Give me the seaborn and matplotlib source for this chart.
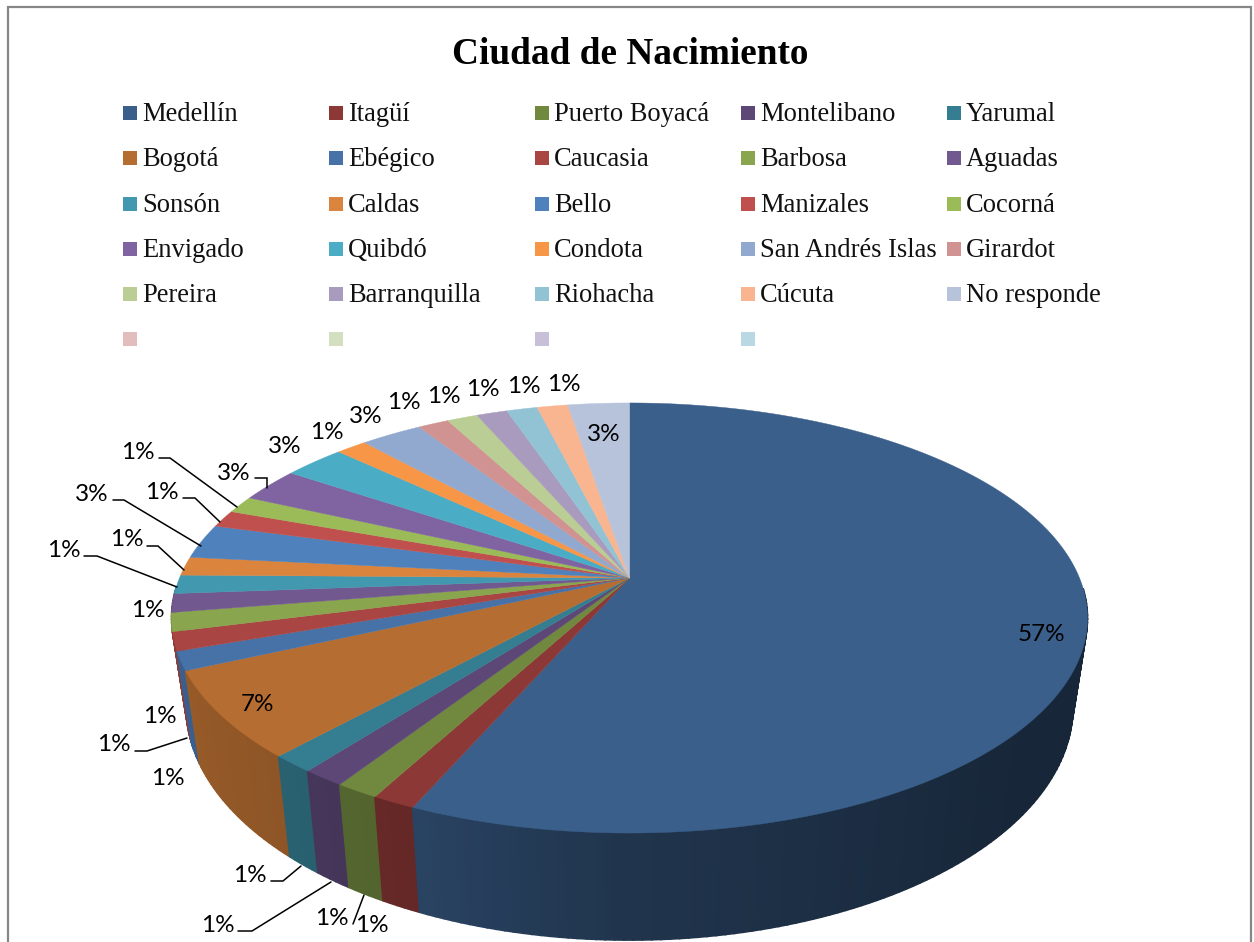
"""Ciudad de Nacimiento: 3D-looking pie with legend grid, drawn in pixel coordinates."""

import matplotlib
matplotlib.use("Agg")
import matplotlib.pyplot as plt
import numpy as np
import seaborn as sns

# ── Data ─────────────────────────────────────────────────────────────────────
CITIES = [
    "Medellín", "Itagüí", "Puerto Boyacá", "Montelibano", "Yarumal",
    "Bogotá", "Ebégico", "Caucasia", "Barbosa", "Aguadas",
    "Sonsón", "Caldas", "Bello", "Manizales", "Cocorná",
    "Envigado", "Quibdó", "Condota", "San Andrés Islas", "Girardot",
    "Pereira", "Barranquilla", "Riohacha", "Cúcuta", "No responde",
]
PERCENT = [
    56.6, 1.3, 1.3, 1.3, 1.3,
    6.5, 1.4, 1.4, 1.4, 1.4,
    1.4, 1.4, 2.6, 1.3, 1.3,
    2.6, 2.6, 1.3, 2.6, 1.3,
    1.3, 1.3, 1.3, 1.3, 2.6,
]
COLORS = [
    "#3A5F8B", "#8C3836", "#71893F", "#5C4776", "#357D91",
    "#B66D31", "#4672A8", "#A94542", "#89A54E", "#71588F",
    "#4298AF", "#DB843D", "#4F81BD", "#C0504D", "#9BBB59",
    "#8064A2", "#4BACC6", "#F79646", "#92A9CF", "#D09392",
    "#BACD94", "#A99BBD", "#91C3D5", "#F9B590", "#B7C3DB",
]
EMPTY_KEY_COLORS = ["#E2BDBD", "#D3DFBE", "#C8C0D8", "#BAD7E4"]

# ── Layout (pixels of the 1254x942 canvas) ───────────────────────────────────
LABEL_POS = [
    (1041, 633), (372, 924), (332, 917), (218, 924), (250, 874),
    (258, 703), (168, 777), (114, 743), (160, 715), (148, 609),
    (64, 549), (127, 538), (92, 493), (162, 491), (138, 451),
    (234, 472), (285, 445), (327, 431), (366, 415), (404, 401),
    (444, 395), (483, 388), (524, 385), (564, 383), (604, 433),
]
LEADERS = [
    [(159, 458), (170, 458), (237, 507)],
    [(183, 498), (195, 498), (220, 522)],
    [(113, 500), (124, 500), (201, 546)],
    [(147, 546), (158, 546), (184, 570)],
    [(84, 556), (97, 556), (177, 587)],
    [(255, 478), (267, 478), (267, 488)],
    [(135, 751), (147, 751), (187, 738)],
    [(271, 881), (283, 881), (301, 866)],
    [(238, 931), (252, 931), (331, 882)],
    [(353, 924), (364, 895)],
]
LEGEND_X = [123, 329, 535, 741, 947]
LEGEND_Y = [113, 158, 204, 249, 294, 339]

CX, APEX_Y = 629.5, 578
A, B, K = 450, 207.6, 0.186     # perspective of the top disc
BASE_SX, BASE_SY, BASE_Y = 0.968, 1.084, 663.6  # bottom disc

SERIF = "Liberation Serif"
LABEL_FONT = "Lato"

sns.set_theme(style="white")
palette = sns.color_palette(COLORS)


def project(phi, sx=1.0, sy=1.0, y0=APEX_Y):
    """Map clockwise-from-top angle (deg) on the disc to canvas pixels."""
    rad = np.radians(phi)
    w = 1 + K * np.cos(rad)
    return CX + sx * A * np.sin(rad) / w, y0 - sy * B * np.cos(rad) / w


def side_shade(phi):
    """Brightness of the wall: dark on the right, lighter to the lower left."""
    return np.interp(phi, [0, 130, 180, 205, 222, 250, 360],
                     [0.40, 0.40, 0.55, 0.72, 0.78, 0.84, 0.84])


fig = plt.figure(figsize=(12.54, 9.42), dpi=100)
ax = fig.add_axes([0, 0, 1, 1])
ax.set_xlim(0, 1254)
ax.set_ylim(942, 0)
ax.axis("off")

# outer frame, open at the bottom
ax.plot([8, 8, 1251, 1251], [942, 7, 7, 942], color="#868686", lw=1.6, solid_joinstyle="miter")

ax.text(630, 64, "Ciudad de Nacimiento", family=SERIF, fontweight="bold",
        fontsize=26.8, ha="center", va="baseline", color="black")

# legend grid
keys = list(palette) + EMPTY_KEY_COLORS
for i, color in enumerate(keys):
    x = LEGEND_X[i % 5]
    y = LEGEND_Y[i // 5]
    ax.fill([x, x + 14, x + 14, x], [y - 7, y - 7, y + 7, y + 7], color=color, lw=0)
    if i < len(CITIES):
        ax.text(x + 19, y + 8, CITIES[i], family=SERIF, fontsize=19.1, va="baseline",
                color="#111111")

# slice angles
shares = np.array(PERCENT) / sum(PERCENT)
edges = np.concatenate([[0], np.cumsum(shares) * 360])

# walls, far to near so the nearer facets overlap; the back half stays hidden
facets = []
for color, a0, a1 in zip(palette, edges[:-1], edges[1:]):
    steps = np.linspace(a0, a1, max(2, int(a1 - a0) + 2))
    for p0, p1 in zip(steps[:-1], steps[1:]):
        depth = np.cos(np.radians((p0 + p1) / 2))
        if depth < -0.05:
            facets.append((depth, p0, p1, color))
facets.sort(key=lambda f: -f[0])
for _, p0, p1, color in facets:
    tx, ty = project(np.array([p0, p1]))
    bx, by = project(np.array([p1, p0]), BASE_SX, BASE_SY, BASE_Y)
    shade = np.clip(np.array(color) * side_shade((p0 + p1) / 2), 0, 1)
    ax.fill(np.r_[tx, bx], np.r_[ty, by], color=shade, lw=1.2)

# top disc
for color, a0, a1 in zip(palette, edges[:-1], edges[1:]):
    arc = np.linspace(a0, a1, max(3, int(a1 - a0) * 2 + 2))
    x, y = project(arc)
    ax.fill(np.r_[CX, x], np.r_[APEX_Y, y], color=color, lw=0.3)

# leader lines and data labels
for line in LEADERS:
    xs, ys = zip(*line)
    ax.plot(xs, ys, color="black", lw=1.1, solid_joinstyle="miter")

for value, (x, y) in zip(PERCENT, LABEL_POS):
    ax.text(x, y + 1.5, f"{int(value + 0.5)}%", family=LABEL_FONT, fontsize=17.5,
            ha="center", va="center", color="black")

fig.savefig("out.png", dpi=100)
